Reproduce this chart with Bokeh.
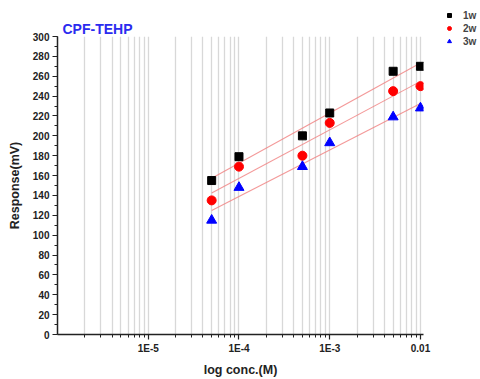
import numpy as np
from bokeh.plotting import figure
from bokeh.models import FixedTicker, Legend, LegendItem, Spacer
from bokeh.layouts import row, column
from bokeh.embed import file_html
from bokeh.resources import INLINE

conc = [5e-5, 1e-4, 5e-4, 1e-3, 5e-3, 1e-2]
resp_1w = [155, 179, 200, 223, 265, 270]
resp_2w = [135, 169, 180, 213, 245, 250]
resp_3w = [115, 148, 169, 193, 219, 228]
series_names = ["1w", "2w", "3w"]
x_major = [1e-5, 1e-4, 1e-3, 1e-2]
x_major_labels = ["1E-5", "1E-4", "1E-3", "0.01"]
y_major = list(range(0, 301, 20))
y_minor = list(range(0, 301, 10))

FONT = "Liberation Sans"
MARKERS = ["square", "circle", "triangle"]
COLORS = ["black", "red", "blue"]
SIZES = [8, 9, 10]
SERIES = (resp_1w, resp_2w, resp_3w)

p = figure(width=435, height=379, x_axis_type="log",
           x_range=(1e-6, 1.08e-2), y_range=(0, 300),
           output_backend="svg", toolbar_location=None,
           min_border_left=57, min_border_right=12,
           min_border_top=36, min_border_bottom=44)
p.outline_line_color = None
p.background_fill_color = "white"

x_minor = [m * 10.0 ** e for e in range(-6, -1) for m in range(1, 10)]
x_minor = [v for v in x_minor if v <= 1.0001e-2 and v > 1e-6]

p.xaxis.ticker = FixedTicker(ticks=x_major, minor_ticks=x_minor)
p.xaxis.major_label_overrides = {v: s for v, s in zip(x_major, x_major_labels)}
p.yaxis.ticker = FixedTicker(ticks=y_major, minor_ticks=y_minor)

p.ygrid.grid_line_color = None
p.xgrid.grid_line_color = None
p.xgrid.minor_grid_line_color = "#d8d8d8"
p.xgrid.minor_grid_line_width = 1.3

for ax in (p.xaxis, p.yaxis):
    ax.axis_line_width = 1.5
    ax.axis_line_color = "#222222"
    ax.major_tick_line_color = "#222222"
    ax.minor_tick_line_color = "#222222"
    ax.major_tick_line_width = 1.2
    ax.minor_tick_line_width = 1.0
    ax.major_tick_in = 0
    ax.minor_tick_in = 0
    ax.major_tick_out = 5
    ax.minor_tick_out = 3
    ax.major_label_text_font = FONT
    ax.major_label_text_font_style = "bold"
    ax.major_label_text_font_size = "10px"
    ax.major_label_text_color = "#222222"
    ax.axis_label_text_font = FONT
    ax.axis_label_text_font_style = "bold"
    ax.axis_label_text_font_size = "12.5px"
    ax.axis_label_text_color = "#222222"

p.xaxis.axis_label = "log conc.(M)"
p.yaxis.axis_label = "Response(mV)"
p.xaxis.major_label_standoff = 3
p.xaxis.axis_label_standoff = 6
p.yaxis.major_label_standoff = 3
p.yaxis.axis_label_standoff = 8

# Fit lines
lx = np.log10(conc)
for ys in SERIES:
    k, b = np.polyfit(lx, ys, 1)
    fx = [conc[0], conc[-1]]
    fy = [k * np.log10(v) + b for v in fx]
    p.line(fx, fy, line_color="#f08080", line_width=1.1, line_alpha=0.8)

for ys, m, c, s in zip(SERIES, MARKERS, COLORS, SIZES):
    p.scatter(conc, ys, marker=m, size=s, fill_color=c, line_color=c)

p.title.text = "CPF-TEHP"
p.title.align = "left"
p.title.offset = 5
p.title.standoff = 0
p.title.text_font = FONT
p.title.text_font_style = "bold"
p.title.text_font_size = "14px"
p.title.text_color = "#2b2bef"

# Legend panel (top-right, outside the main frame)
lf = figure(width=45, height=50, x_range=(0, 1), y_range=(0, 1),
            output_backend="svg", toolbar_location=None,
            x_axis_location=None, y_axis_location=None,
            min_border=0)
lf.outline_line_color = None
lf.grid.visible = False
items = []
for name, ys, m, c in zip(series_names, SERIES, MARKERS, COLORS):
    # same data as the main plot; it falls outside this panel's ranges, so only
    # the legend swatch is visible
    r = lf.scatter(conc, ys, marker=m, size=7, fill_color=c, line_color=c)
    items.append(LegendItem(label=name, renderers=[r]))
legend = Legend(items=items, location=(9, 3), background_fill_alpha=0,
                border_line_color=None,
                label_text_font=FONT, label_text_font_style="bold",
                label_text_font_size="10px", label_height=12, glyph_height=12,
                glyph_width=10, spacing=1, padding=0, margin=0, label_standoff=9)
lf.add_layout(legend)

layout = row(p, column(lf, Spacer(width=45, height=329)))
open("out.html", "w").write(file_html(layout, INLINE))
